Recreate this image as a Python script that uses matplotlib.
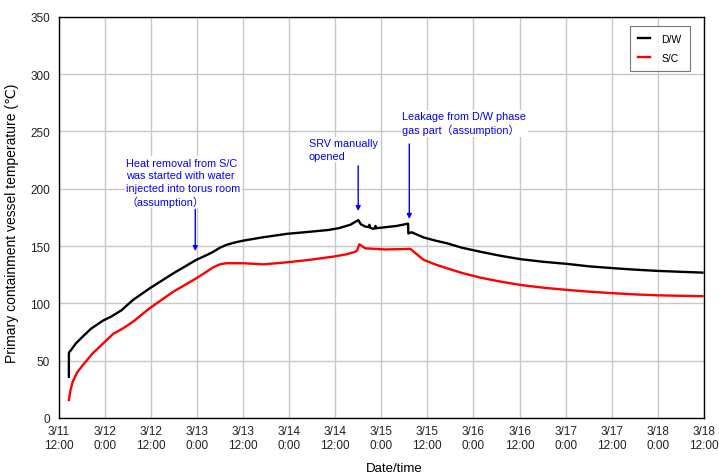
import matplotlib
matplotlib.use("Agg")
import matplotlib.pyplot as plt

plt.rcParams['font.family'] = ['Liberation Sans', 'DejaVu Sans', 'Noto Sans CJK JP']

# hours since 3/11 12:00
dw_hours = [2.7, 2.7, 3.2, 4.5, 6.3, 8.5, 11.6, 13.7, 16.4, 19.4, 23.7, 29.8, 35.9,
            38.5, 40.3, 42.0, 43.7, 45.8, 48.1, 53.0, 59.4, 65.0, 70.3, 73.0, 76.0,
            78.0, 78.7, 79.8, 80.8, 80.9, 81.1, 81.9, 82.4, 82.5, 82.7, 84.0, 88.0,
            91.0, 91.05, 91.9, 95.0, 98.0, 101.1, 105.0, 109.8, 115.0, 120.3, 126.0,
            132.4, 138.0, 144.6, 150.0, 155.9, 162.0, 167.6]
dw_vals = [36, 57, 59, 65, 71, 78, 85, 88.4, 94, 103, 113, 126, 138,
           142, 145, 148.5, 151, 153, 154.7, 157.5, 160.6, 162.3, 164, 165.6, 168.6,
           172.6, 169, 167, 166.5, 168.5, 166, 165, 165.5, 167.5, 165.5, 166, 167.5,
           169.5, 161, 162, 157.5, 154.8, 152.4, 148.5, 145, 141.5, 138.5, 136.3,
           134.4, 132.3, 130.6, 129.4, 128.3, 127.5, 126.8]

sc_hours = [2.7, 3.1, 3.7, 4.8, 6.3, 8.8, 11.6, 14.2, 16.8, 19.4, 23.7, 29.8, 35.9,
            38.5, 40.3, 42.0, 43.7, 48.1, 53.3, 59.8, 65.0, 71.6, 75.0, 77.2, 77.7,
            78.3, 79.8, 85.0, 91.6, 93.0, 95.0, 98.0, 101.1, 105.0, 109.8, 115.0,
            120.3, 126.0, 132.4, 138.0, 144.6, 150.0, 155.9, 162.0, 167.6]
sc_vals = [15.7, 24, 31.7, 39.5, 46, 56, 65, 73.3, 78.2, 84, 95.7, 110, 121.9,
           127.5, 131.5, 134, 135, 135, 134, 135.9, 137.8, 140.8, 142.8, 145, 146,
           151.5, 148, 147, 147.5, 143.5, 138, 134, 130.6, 126.5, 122.4, 119,
           116, 113.7, 111.7, 110.2, 108.8, 107.8, 107, 106.6, 106.2]

tick_hours = list(range(0, 169, 12))
tick_labels = ["3/11\n12:00", "3/12\n0:00", "3/12\n12:00", "3/13\n0:00", "3/13\n12:00",
               "3/14\n0:00", "3/14\n12:00", "3/15\n0:00", "3/15\n12:00", "3/16\n0:00",
               "3/16\n12:00", "3/17\n0:00", "3/17\n12:00", "3/18\n0:00", "3/18\n12:00"]

annotations = [
    ("Heat removal from S/C\nwas started with water\ninjected into torus room\n（assumption）",
     17.6, 227, 35.6, 182, 145.6),
    ("SRV manually\nopened", 65.1, 244, 78.0, 220, 180.5),
    ("Leakage from D/W phase\ngas part（assumption）", 89.5, 267.5, 91.3, 239, 173.6),
]

fig = plt.figure(figsize=(7.19, 4.77), dpi=100)
ax = fig.add_axes([58.5 / 719, 1 - 419 / 477, (704 - 58.5) / 719, (419 - 17.7) / 477])

ax.plot(dw_hours, dw_vals, color='black', lw=1.7, label='D/W', zorder=3)
ax.plot(sc_hours, sc_vals, color='#ff0000', lw=1.7, label='S/C', zorder=3)

ax.set_xlim(0, 168)
ax.set_ylim(0, 350)
ax.set_xticks(tick_hours)
ax.set_xticklabels(tick_labels, fontsize=8.5, color='#222222')
ax.set_yticks(range(0, 351, 50))
ax.tick_params(axis='y', labelsize=8.5, labelcolor='#222222', length=0, pad=6)
ax.tick_params(axis='x', length=0, pad=5)
ax.grid(True, color='#c8c8c8', lw=1)
ax.set_axisbelow(True)
for s in ax.spines.values():
    s.set_color('black')
    s.set_linewidth(1)

ax.set_ylabel("Primary containment vessel temperature (℃)", fontsize=10)
ax.yaxis.set_label_coords(-0.061, 0.488)
ax.set_xlabel("Date/time", fontsize=9.5)
ax.xaxis.set_label_coords(0.52, -0.11)

for text, tx, ty, ah, tail, tip in annotations:
    ax.text(tx, ty, text, color='#0000ff', fontsize=7.8, va='top', ha='left',
            linespacing=1.3, zorder=4,
            family=['Liberation Sans', 'Noto Sans CJK JP'],
            bbox=dict(facecolor='white', edgecolor='none', pad=1))
    ax.annotate('', xy=(ah, tip), xytext=(ah, tail), zorder=5,
                arrowprops=dict(arrowstyle='-|>', color='#0000ff', lw=1,
                                mutation_scale=7, shrinkA=0, shrinkB=0))

leg = ax.legend(loc='upper right', bbox_to_anchor=(0.978, 0.978), fontsize=7.5,
                frameon=True, fancybox=False, edgecolor='#555555', handlelength=1.1,
                borderpad=0.8, labelspacing=0.85, handletextpad=1.1, borderaxespad=0)
leg.get_frame().set_linewidth(0.8)

fig.savefig("out.png", dpi=100)
